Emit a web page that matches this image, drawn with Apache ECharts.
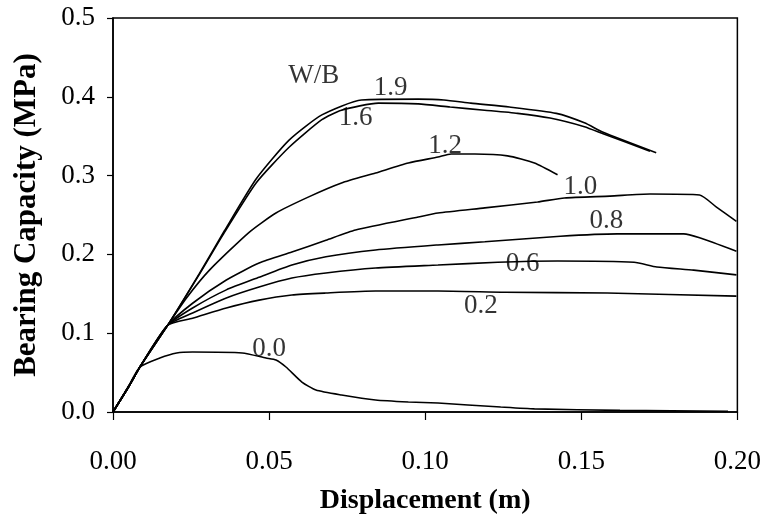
<!DOCTYPE html>
<html>
<head>
<meta charset="utf-8">
<script src="https://cdn.jsdelivr.net/npm/echarts@6/dist/echarts.min.js"></script>
<style>
html,body{margin:0;padding:0;background:#fff;}
#chart{width:764px;height:522px;}
</style>
</head>
<body>
<div id="chart"></div>
<script>
// Displacement (m), Bearing capacity (MPa) pairs for each W/B ratio
var w19 = [[0,0],[0.005,0.032],[0.0086,0.057],[0.0175,0.110],[0.0277,0.176],[0.0357,0.230],[0.0459,0.296],[0.0564,0.345],[0.0669,0.377],[0.0796,0.396],[0.0978,0.397],[0.106,0.396],[0.1146,0.392],[0.127,0.387],[0.142,0.379],[0.151,0.367],[0.157,0.355],[0.174,0.329]];
var w16 = [[0,0],[0.005,0.032],[0.0086,0.057],[0.0175,0.110],[0.0277,0.175],[0.0357,0.228],[0.0459,0.291],[0.0564,0.336],[0.0669,0.371],[0.0732,0.383],[0.085,0.392],[0.0978,0.391],[0.108,0.387],[0.119,0.383],[0.1296,0.379],[0.140,0.373],[0.151,0.362],[0.157,0.353],[0.172,0.331]];
var w12 = [[0,0],[0.005,0.032],[0.0086,0.057],[0.0175,0.110],[0.0236,0.145],[0.0309,0.180],[0.0436,0.228],[0.0522,0.2525],[0.0627,0.273],[0.0732,0.2906],[0.0841,0.3033],[0.0946,0.316],[0.1041,0.3236],[0.1083,0.3274],[0.1159,0.3274],[0.1264,0.325],[0.135,0.316],[0.1424,0.301]];
var w10 = [[0,0],[0.005,0.032],[0.0086,0.057],[0.0175,0.110],[0.0255,0.138],[0.0363,0.1675],[0.0468,0.189],[0.0573,0.203],[0.0682,0.218],[0.0777,0.231],[0.0978,0.2475],[0.1041,0.2525],[0.1191,0.259],[0.136,0.2665],[0.1446,0.2716],[0.1592,0.274],[0.172,0.2766],[0.1879,0.2754],[0.1933,0.260],[0.1997,0.242]];
var w08 = [[0,0],[0.005,0.032],[0.0086,0.057],[0.0175,0.110],[0.0255,0.132],[0.0363,0.155],[0.0468,0.171],[0.0573,0.1865],[0.0682,0.197],[0.0841,0.2056],[0.1041,0.212],[0.1191,0.216],[0.1433,0.223],[0.1615,0.226],[0.1828,0.226],[0.1879,0.221],[0.1997,0.204]];
var w06 = [[0,0],[0.005,0.032],[0.0086,0.057],[0.0175,0.110],[0.0255,0.1256],[0.0363,0.1447],[0.0468,0.1586],[0.0573,0.170],[0.0682,0.1764],[0.0841,0.1827],[0.1041,0.1865],[0.1232,0.190],[0.1424,0.1916],[0.1669,0.190],[0.1742,0.184],[0.186,0.180],[0.1997,0.174]];
var w02 = [[0,0],[0.005,0.032],[0.0086,0.057],[0.0175,0.110],[0.0255,0.119],[0.0363,0.132],[0.0468,0.142],[0.0573,0.1485],[0.0682,0.151],[0.0841,0.1535],[0.1041,0.1535],[0.1255,0.152],[0.1583,0.151],[0.1997,0.147]];
var w00 = [[0,0],[0.005,0.033],[0.0086,0.057],[0.015,0.0685],[0.0204,0.0749],[0.0255,0.0761],[0.0414,0.0749],[0.049,0.0685],[0.0522,0.066],[0.0554,0.0571],[0.0605,0.038],[0.065,0.0279],[0.0732,0.0216],[0.0841,0.0152],[0.0946,0.0127],[0.1041,0.0114],[0.1137,0.0089],[0.1242,0.0063],[0.135,0.004],[0.1624,0.002],[0.197,0.001]];

var seriesNames = ['1.9','1.6','1.2','1.0','0.8','0.6','0.2','0.0'];
var seriesData = [w19, w16, w12, w10, w08, w06, w02, w00];

// Curve annotations
var labelTexts = ['W/B','1.9','1.6','1.2','1.0','0.8','0.6','0.2','0.0'];
var labelX = [0.0643,0.0889,0.0777,0.1064,0.1497,0.158,0.1312,0.1178,0.050];
var labelY = [0.426,0.411,0.373,0.3376,0.2855,0.2424,0.1878,0.1345,0.080];

var xTicks = [0, 0.05, 0.10, 0.15, 0.20];
var yTicks = [0, 0.1, 0.2, 0.3, 0.4, 0.5];

var FONT = 'Liberation Serif';
var chart = echarts.init(document.getElementById('chart'), null, {renderer:'canvas'});

var series = seriesData.map(function(d, i){
  return {
    name: seriesNames[i], type:'line', data:d, showSymbol:false, smooth:0.2,
    lineStyle:{color:'#000', width:1.6}, silent:true, z:3
  };
});
series.push({
  type:'scatter', symbolSize:0, silent:true, z:5,
  data: labelTexts.map(function(t,i){ return {name:t, value:[labelX[i], labelY[i]]}; }),
  label:{show:true, position:'inside', formatter:function(p){return p.name;},
    fontFamily:FONT, fontSize:27, color:'#000'}
});

chart.setOption({
  animation:false,
  backgroundColor:'#fff',
  grid:{left:113, top:18, right:22, bottom:110, show:true, borderColor:'#000', borderWidth:1.5, backgroundColor:'transparent'},
  xAxis:{
    type:'value', min:xTicks[0], max:xTicks[xTicks.length-1], interval:0.05,
    name:'Displacement (m)', nameLocation:'middle', nameGap:75,
    nameTextStyle:{fontFamily:FONT, fontSize:28, fontWeight:'bold', color:'#000'},
    axisLine:{lineStyle:{color:'#000', width:1.5}},
    axisTick:{show:true, inside:false, length:8, lineStyle:{color:'#000', width:1.2}},
    axisLabel:{margin:36, fontFamily:FONT, fontSize:27, color:'#000', formatter:function(v){return v.toFixed(2);}},
    splitLine:{show:false}
  },
  yAxis:{
    type:'value', min:yTicks[0], max:yTicks[yTicks.length-1], interval:0.1,
    name:'Bearing Capacity (MPa)', nameLocation:'middle', nameGap:71,
    nameTextStyle:{fontFamily:FONT, fontSize:31, fontWeight:'bold', color:'#000'},
    axisLine:{lineStyle:{color:'#000', width:1.5}},
    axisTick:{show:true, inside:false, length:6, lineStyle:{color:'#000', width:1.2}},
    axisLabel:{margin:18, fontFamily:FONT, fontSize:27, color:'#000', formatter:function(v){return v.toFixed(1);}},
    splitLine:{show:false}
  },
  series:series
});
</script>
</body>
</html>
